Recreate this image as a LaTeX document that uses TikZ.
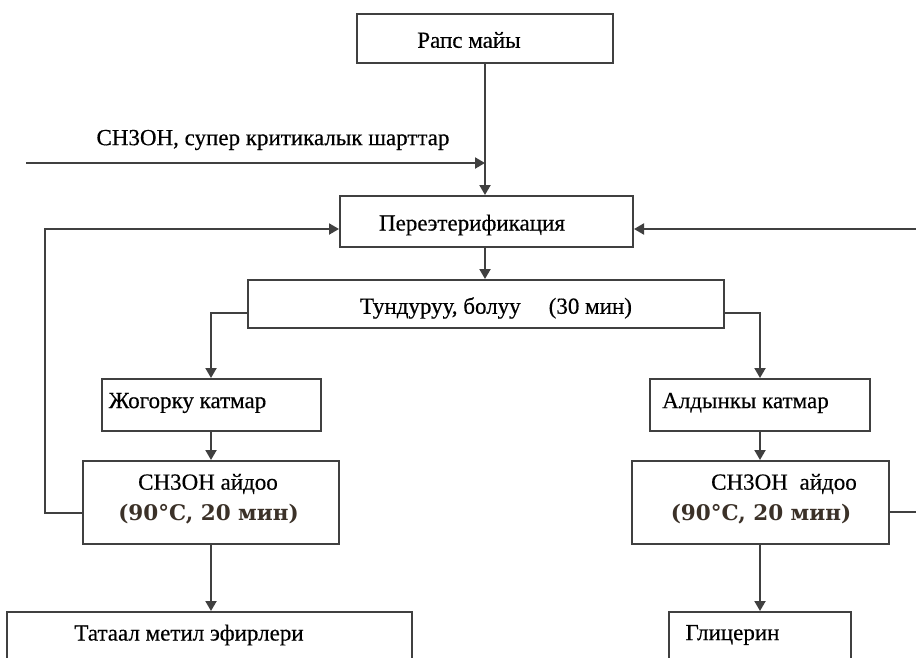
\documentclass[tikz,border=0pt]{standalone}
\usepackage{fontspec}
\setmainfont{Liberation Serif}[FakeBold=0.4]
\newfontfamily\numfont{DejaVu Serif}
\usetikzlibrary{arrows.meta}
\definecolor{lnc}{HTML}{404040}
\definecolor{condc}{HTML}{3B3128}
\tikzset{
  boxst/.style={draw=lnc, line width=2pt, rectangle, inner sep=0pt, fill=white},
  txt/.style={inner sep=0pt, font=\fontsize{23}{26}\selectfont, text=black},
  condt/.style={inner sep=0pt, font=\numfont\bfseries\fontsize{21.5}{24}\selectfont, text=condc},
  conn/.style={draw=lnc, line width=2pt},
  arr/.style={conn, -{Triangle[length=10pt,width=11pt]}}
}
\begin{document}
\begin{tikzpicture}[x=1pt,y=-1pt]
\useasboundingbox (0,0) rectangle (916,657);
\fill[white] (0,0) rectangle (916,657);
\begin{scope}
\clip (0,0) rectangle (916,657);
% boxes
\node[boxst, minimum width=256pt, minimum height=49pt] (rape) at (485,38.5) {};
\node[boxst, minimum width=293pt, minimum height=51pt] (trans) at (486.5,221.5) {};
\node[boxst, minimum width=476pt, minimum height=48pt] (settle) at (486,304) {};
\node[boxst, minimum width=219pt, minimum height=52pt] (upper) at (211,405) {};
\node[boxst, minimum width=220pt, minimum height=52pt] (lower) at (760,405) {};
\node[boxst, minimum width=256pt, minimum height=83pt] (methA) at (211,502.5) {};
\node[boxst, minimum width=257pt, minimum height=83pt] (methB) at (760,502.5) {};
\node[boxst, minimum width=405pt, minimum height=68pt] (fame) at (209.5,646) {};
\node[boxst, minimum width=182pt, minimum height=68pt] (glyc) at (760,646) {};
% texts
\node[txt] (t1) at (469,40) {Рапс майы};
\node[txt] (t2) at (273,140) {CH3OH, супер критикалык шарттар};
\node[txt] (t3) at (472,225) {Переэтерификация};
\node[txt] (t4) at (496,308) {Тундуруу, болуу\hspace{28pt}(30 мин)};
\node[txt] (t5) at (187.5,403) {Жогорку катмар};
\node[txt] (t6) at (745.5,403) {Алдынкы катмар};
\node[txt] (t7) at (208,484) {CH3OH айдоо};
\node[condt] (t8) at (208.5,514) {(90°C, 20 мин)};
\node[txt] (t9) at (784,484) {CH3OH\hspace{6pt} айдоо};
\node[condt] (t10) at (761,514) {(90°C, 20 мин)};
\node[txt] (t11) at (189,635) {Татаал метил эфирлери};
\node[txt] (t12) at (732.5,635) {Глицерин};
% connectors
\coordinate (inlet) at (26,163);
\draw[arr] (rape.south) -- (rape.south |- trans.north);
\draw[arr] (inlet) -- (inlet -| rape.south);
\draw[arr] (trans.south -| rape.south) -- (settle.north -| rape.south);
\draw[arr] ([yshift=-9pt]settle.west) -| (upper.north);
\draw[arr] ([yshift=-9pt]settle.east) -| (lower.north);
\draw[arr] (upper.south) -- (methA.north);
\draw[arr] (lower.south) -- (methB.north);
\draw[arr] (methA.south) -- (methA.south |- fame.north);
\draw[arr] (methB.south) -- (methB.south |- glyc.north);
\draw[arr] ([yshift=-10.5pt]methA.west) -- ++(-37,0) |- ([yshift=-7.5pt]trans.west);
\draw[arr] ([yshift=-9.5pt]methB.east) -- ++(60,0) |- ([yshift=-7.5pt]trans.east);
\end{scope}
\end{tikzpicture}
\end{document}
